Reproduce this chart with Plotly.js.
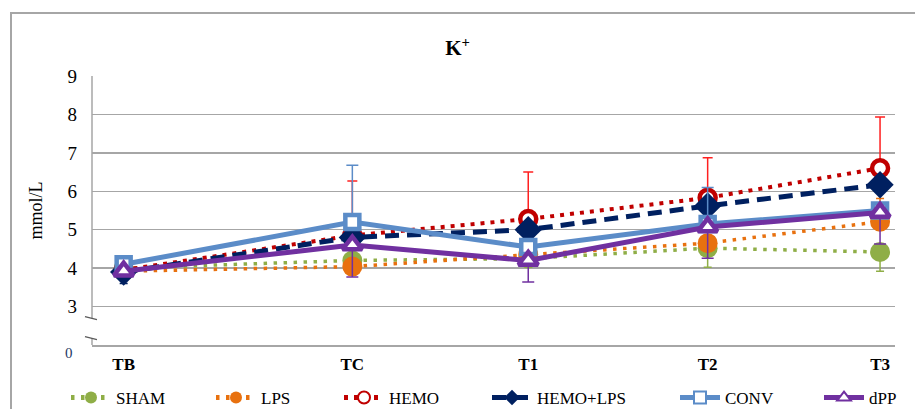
<!DOCTYPE html>
<html>
<head>
<meta charset="utf-8">
<script src="https://cdn.plot.ly/plotly-3.0.1.min.js"></script>
<style>
  html, body { margin: 0; padding: 0; background: #fff; }
  #chart { width: 915px; height: 409px; }
</style>
</head>
<body>
<div id="chart"></div>
<script>
// ---- data ----
const timepoints = ["TB", "TC", "T1", "T2", "T3"];
const timePos = [0, 1.3, 2.3, 3.32, 4.3];

const sham = [4.0, 4.2, 4.25, 4.52, 4.42];
const shamErrMinus = [0, 0, 0, 0.5, 0.5];

const lps = [3.92, 4.04, 4.35, 4.65, 5.21];
const lpsErrPlus = [0, 0, 0, 0, 0.6];

const hemo = [3.95, 4.85, 5.28, 5.83, 6.6];
const hemoErrPlus = [0, 1.42, 1.22, 1.04, 1.33];

const hemoLps = [3.9, 4.8, 5.0, 5.62, 6.17];
const hemoLpsErrMinus = [0.3, 0, 0, 0, 0];

const conv = [4.1, 5.2, 4.55, 5.15, 5.5];
const convErrPlus = [0, 1.48, 0, 0.95, 0];

const dpp = [3.92, 4.6, 4.2, 5.07, 5.45];
const dppErrMinus = [0, 0.83, 0.56, 0.81, 0.82];

const yTicks = [3, 4, 5, 6, 7, 8, 9];

// ---- traces ----
function zeros(n) { return new Array(n).fill(0); }
const n = timepoints.length;

const traces = [
  {
    name: "SHAM", legend: "legend", x: timePos, y: sham, mode: "lines+markers",
    line: { color: "#8FAE47", width: 3.5, dash: "3.5px,6.5px" },
    marker: { symbol: "circle", size: 20, color: "#8FAE47" },
    error_y: { type: "data", symmetric: false, array: zeros(n), arrayminus: shamErrMinus, color: "#8FAE47", thickness: 1.5, width: 4 }
  },
  {
    name: "LPS", legend: "legend2", x: timePos, y: lps, mode: "lines+markers",
    line: { color: "#E8710F", width: 3.5, dash: "3.5px,6.5px" },
    marker: { symbol: "circle", size: 20, color: "#E8710F" },
    error_y: { type: "data", symmetric: false, array: lpsErrPlus, arrayminus: zeros(n), color: "#E8710F", thickness: 1.5, width: 4 }
  },
  {
    name: "HEMO", legend: "legend3", x: timePos, y: hemo, mode: "lines+markers",
    line: { color: "#C00000", width: 4, dash: "4px,6px" },
    marker: { symbol: "circle", size: 16, color: "#ffffff", line: { color: "#C00000", width: 4.5 } },
    error_y: { type: "data", symmetric: false, array: hemoErrPlus, arrayminus: zeros(n), color: "#FF2020", thickness: 1.5, width: 5 }
  },
  {
    name: "HEMO+LPS", legend: "legend4", x: timePos, y: hemoLps, mode: "lines+markers",
    line: { color: "#002060", width: 5, dash: "14px,8px" },
    marker: { symbol: "diamond", size: 21, color: "#002060" },
    error_y: { type: "data", symmetric: false, array: zeros(n), arrayminus: hemoLpsErrMinus, color: "#002060", thickness: 1.5, width: 4 }
  },
  {
    name: "CONV", legend: "legend5", x: timePos, y: conv, mode: "lines+markers",
    line: { color: "#5B8CC8", width: 5 },
    marker: { symbol: "square", size: 14, color: "#ffffff", line: { color: "#5B8CC8", width: 4.5 } },
    error_y: { type: "data", symmetric: false, array: convErrPlus, arrayminus: zeros(n), color: "#5B8CC8", thickness: 1.5, width: 6 }
  },
  {
    name: "dPP", legend: "legend6", x: timePos, y: dpp, mode: "lines+markers",
    line: { color: "#7030A0", width: 5 },
    marker: { symbol: "triangle-up", size: 17, color: "#ffffff", line: { color: "#7030A0", width: 4.5 } },
    error_y: { type: "data", symmetric: false, array: zeros(n), arrayminus: dppErrMinus, color: "#7030A0", thickness: 1.5, width: 6 }
  }
];

// ---- layout ----
const serif = "'Liberation Serif', 'DejaVu Serif', serif";
const gridColor = "#A6A6A6";
const plotL = 92, plotR = 20, plotT = 76, plotB = 64;
const plotW = 915 - plotL - plotR, plotH = 409 - plotT - plotB;

function legendAt(textLeftPx) {
  return {
    orientation: "h", xref: "container", x: (textLeftPx - 51) / 915, xanchor: "left",
    yref: "container", y: 1 - 398 / 409, yanchor: "middle",
    bgcolor: "rgba(0,0,0,0)",
    font: { family: serif, size: 17, color: "#000" },
    itemwidth: 40, itemsizing: "constant"
  };
}

const layout = {
  width: 915, height: 409,
  margin: { l: plotL, r: plotR, t: plotT, b: plotB, autoexpand: false },
  paper_bgcolor: "#ffffff", plot_bgcolor: "#ffffff",
  showlegend: true,
  title: {
    text: "<b>K<sup>+</sup></b>",
    font: { family: serif, size: 21, color: "#000" },
    x: 0.5, xanchor: "center", y: 1 - 48 / 409, yanchor: "middle", xref: "container", yref: "container"
  },
  xaxis: {
    range: [-0.18, 4.385], automargin: false,
    tickmode: "array", tickvals: timePos, ticktext: timepoints.map(t => "<b>" + t + "</b>"),
    tickfont: { family: serif, size: 17, color: "#000" },
    showgrid: false, zeroline: false,
    showline: true, linecolor: gridColor, linewidth: 1.5,
    ticks: "", ticklabelstandoff: 3
  },
  yaxis: {
    range: [2, 9], automargin: false,
    tickmode: "array", tickvals: yTicks, ticktext: yTicks.map(String),
    tickfont: { family: serif, size: 19, color: "#000" },
    showgrid: true, gridcolor: gridColor, gridwidth: 1.5,
    zeroline: false, showline: false, ticks: "",
    ticklabelstandoff: 14,
    title: { text: "mmol/L", font: { family: serif, size: 18, color: "#000" }, standoff: 20 }
  },
  legend: legendAt(117),
  legend2: legendAt(262),
  legend3: legendAt(390),
  legend4: legendAt(538),
  legend5: legendAt(726),
  legend6: legendAt(870),
  shapes: [
    // outer frame
    { type: "rect", xref: "paper", yref: "paper",
      x0: (11 - plotL) / plotW, x1: (930 - plotL) / plotW,
      y0: -(430 - (409 - plotB)) / plotH, y1: ((409 - plotB) - 13) / plotH,
      line: { color: "#A6A6A6", width: 2 }, layer: "below" },
    // y axis line (broken)
    { type: "line", xref: "paper", yref: "y", x0: 0, x1: 0, y0: 2.7, y1: 9, line: { color: gridColor, width: 1.5 } },
    { type: "line", xref: "paper", yref: "y", x0: 0, x1: 0, y0: 2, y1: 2.18, line: { color: gridColor, width: 1.5 } },
    // break marks
    { type: "line", xref: "paper", yref: "y", x0: -7 / plotW, x1: 5 / plotW, y0: 2.74, y1: 2.66, line: { color: "#595959", width: 1.2 } },
    { type: "line", xref: "paper", yref: "y", x0: -7 / plotW, x1: 5 / plotW, y0: 2.22, y1: 2.14, line: { color: "#595959", width: 1.2 } }
  ],
  annotations: [
    { text: "0", xref: "paper", yref: "y", x: -23 / plotW, y: 2, xanchor: "center", yanchor: "middle", yshift: -8,
      showarrow: false, font: { family: serif, size: 15, color: "#1F3864" } }
  ]
};

Plotly.newPlot("chart", traces, layout, { displayModeBar: false, staticPlot: true });
</script>
</body>
</html>
